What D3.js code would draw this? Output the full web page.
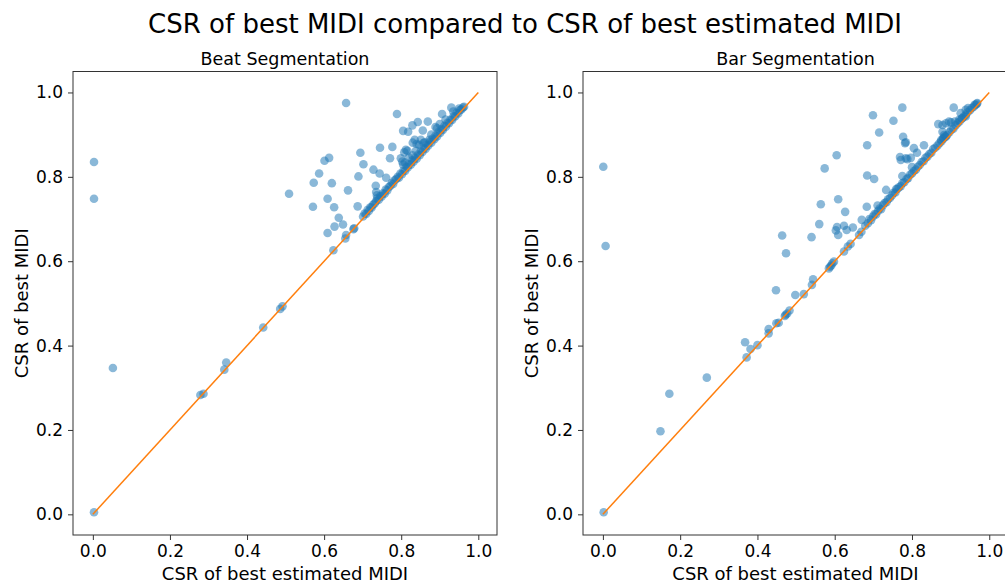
<!DOCTYPE html>
<html><head><meta charset="utf-8">
<script src="https://cdn.jsdelivr.net/npm/d3@7"></script>
<style>
body{margin:0;background:#fff;}
svg text{font-family:"DejaVu Sans",sans-serif;fill:#000;}
</style></head>
<body><svg id="chart" width="1005" height="585"></svg>
<script>
const figTitle = "CSR of best MIDI compared to CSR of best estimated MIDI";
const panelTitles = ["Beat Segmentation", "Bar Segmentation"];
const xLabel = "CSR of best estimated MIDI";
const yLabel = "CSR of best MIDI";
const tickValues = [0.0, 0.2, 0.4, 0.6, 0.8, 1.0];
const refLine = [0, 1];

// Beat segmentation: x = CSR of best estimated MIDI, y = CSR of best MIDI
const beatX = [0.003,0.003,0.003,0.052,0.279,0.287,0.341,0.346,0.442,0.486,0.492,0.509,0.571,0.573,0.587,0.601,0.613,0.609,0.620,0.626,0.609,0.627,0.638,0.649,0.624,0.655,0.657,0.662,0.657,0.678,0.676,0.687,0.689,0.694,0.702,0.728,0.734,0.735,0.737,0.744,0.745,0.761,0.771,0.777,0.789,0.799,0.803,0.810,0.805,0.818,0.808,0.812,0.816,0.829,0.843,0.830,0.835,0.840,0.851,0.858,0.873,0.856,0.869,0.889,0.906,0.930,
0.701,0.705,0.709,0.713,0.716,0.720,0.723,0.727,0.731,0.735,0.738,0.742,0.746,0.749,0.753,0.757,0.760,0.764,0.768,0.772,0.776,0.779,0.783,0.787,0.791,0.794,0.798,0.802,0.806,0.810,0.814,0.817,0.821,0.825,0.829,0.832,0.836,0.840,0.844,0.848,0.851,0.855,0.859,0.863,0.867,0.870,0.874,0.878,0.882,0.886,0.889,0.893,0.897,0.901,0.905,0.908,0.912,0.916,0.920,0.924,0.928,0.932,0.936,0.940,0.944,0.948,0.952,0.956,0.960,0.963,
0.846,0.861,0.878,0.893,0.915,0.935,0.900,0.950,0.820,0.829,0.838,0.805];
const beatY = [0.005,0.835,0.748,0.347,0.283,0.286,0.343,0.360,0.443,0.487,0.493,0.760,0.729,0.786,0.808,0.838,0.845,0.748,0.785,0.728,0.667,0.682,0.703,0.687,0.626,0.654,0.662,0.768,0.975,0.678,0.676,0.730,0.801,0.857,0.830,0.817,0.779,0.764,0.756,0.808,0.869,0.798,0.844,0.871,0.949,0.844,0.836,0.834,0.909,0.907,0.858,0.864,0.862,0.922,0.930,0.881,0.888,0.878,0.888,0.880,0.888,0.910,0.931,0.918,0.949,0.964,
0.706,0.713,0.712,0.722,0.719,0.728,0.727,0.734,0.737,0.742,0.749,0.746,0.755,0.753,0.761,0.760,0.770,0.768,0.776,0.779,0.786,0.783,0.792,0.795,0.800,0.798,0.808,0.806,0.815,0.814,0.824,0.822,0.830,0.829,0.839,0.836,0.845,0.843,0.853,0.851,0.861,0.859,0.868,0.866,0.876,0.874,0.883,0.881,0.891,0.889,0.898,0.896,0.906,0.904,0.913,0.911,0.921,0.919,0.928,0.927,0.936,0.935,0.944,0.943,0.952,0.950,0.958,0.960,0.964,0.966,
0.876,0.882,0.900,0.915,0.936,0.955,0.925,0.962,0.846,0.851,0.862,0.829];

// Bar segmentation
const barX = [0.002,0.001,0.007,0.149,0.172,0.269,0.368,0.372,0.382,0.400,0.429,0.429,0.449,0.455,0.471,0.473,0.477,0.483,0.448,0.464,0.474,0.498,0.520,0.541,0.544,0.540,0.560,0.564,0.574,0.585,0.588,0.591,0.594,0.598,0.603,0.606,0.609,0.605,0.609,0.624,0.624,0.627,0.631,0.634,0.641,0.647,0.663,0.669,0.670,0.683,0.684,0.684,0.699,0.702,0.711,0.715,0.733,0.752,0.759,0.769,0.771,0.784,0.788,0.797,0.775,0.775,0.777,0.782,0.784,0.800,0.805,0.813,0.831,0.908,
0.868,0.879,0.888,0.896,0.901,0.911,0.922,0.930,0.939,0.879,0.883,0.888,0.876,0.881,0.926,0.939,0.945,0.962,0.969,
0.679,0.686,0.690,0.694,0.699,0.703,0.707,0.712,0.716,0.720,0.725,0.729,0.734,0.738,0.743,0.748,0.752,0.757,0.762,0.766,0.771,0.775,0.780,0.786,0.790,0.795,0.800,0.805,0.810,0.815,0.820,0.825,0.830,0.835,0.840,0.845,0.850,0.855,0.860,0.866,0.871,0.876,0.881,0.886,0.891,0.897,0.902,0.907,0.913,0.918,0.923,0.929,0.934,0.939,0.944,0.950,0.955,0.960,0.965,0.968];
const barY = [0.005,0.824,0.636,0.197,0.286,0.324,0.408,0.372,0.392,0.401,0.439,0.429,0.453,0.454,0.470,0.473,0.476,0.483,0.531,0.661,0.619,0.520,0.522,0.544,0.557,0.657,0.688,0.735,0.820,0.583,0.587,0.590,0.595,0.599,0.673,0.681,0.662,0.851,0.747,0.623,0.684,0.717,0.674,0.635,0.641,0.680,0.662,0.670,0.698,0.729,0.803,0.875,0.946,0.795,0.732,0.905,0.769,0.933,0.771,0.847,0.840,0.844,0.842,0.845,0.964,0.802,0.895,0.880,0.882,0.823,0.868,0.857,0.875,0.964,
0.925,0.923,0.927,0.931,0.929,0.931,0.935,0.939,0.943,0.907,0.899,0.895,0.888,0.892,0.951,0.959,0.963,0.971,0.975,
0.684,0.690,0.700,0.697,0.706,0.712,0.711,0.719,0.725,0.723,0.733,0.738,0.740,0.747,0.750,0.756,0.762,0.763,0.771,0.775,0.778,0.785,0.787,0.795,0.797,0.805,0.808,0.814,0.817,0.824,0.828,0.835,0.837,0.845,0.848,0.854,0.857,0.866,0.869,0.874,0.880,0.884,0.890,0.896,0.899,0.906,0.912,0.914,0.922,0.927,0.931,0.938,0.943,0.947,0.953,0.958,0.963,0.966,0.971,0.973];

const svg = d3.select("#chart");

svg.append("text").attr("x", 525).attr("y", 33).attr("text-anchor", "middle")
  .style("font-size", "26px").text(figTitle);

const panels = [
  {title: panelTitles[0], xs: beatX, ys: beatY, left: 73, right: 497},
  {title: panelTitles[1], xs: barX, ys: barY, left: 583, right: 1008}
];
const axTop = 71.5, axBottom = 535;

panels.forEach(p => {
  const x = d3.scaleLinear().domain([-0.0515, 1.0485]).range([p.left, p.right]);
  const y = d3.scaleLinear().domain([-0.049, 1.0497]).range([axBottom, axTop]);
  const g = svg.append("g");

  g.append("g").selectAll("circle").data(p.xs.map((v, i) => [v, p.ys[i]])).join("circle")
    .attr("cx", d => x(d[0])).attr("cy", d => y(d[1])).attr("r", 4.3)
    .attr("fill", "#1f77b4").attr("fill-opacity", 0.52);

  g.append("line").attr("x1", x(refLine[0])).attr("y1", y(refLine[0]))
    .attr("x2", x(refLine[1])).attr("y2", y(refLine[1]))
    .attr("stroke", "#ff7f0e").attr("stroke-width", 1.5);

  const xa = g.append("g").attr("transform", `translate(0,${axBottom})`)
    .call(d3.axisBottom(x).tickValues(tickValues).tickFormat(d3.format(".1f")).tickSize(5).tickPadding(4));
  const ya = g.append("g").attr("transform", `translate(${p.left},0)`)
    .call(d3.axisLeft(y).tickValues(tickValues).tickFormat(d3.format(".1f")).tickSize(5).tickPadding(5));
  [xa, ya].forEach(a => {
    a.select(".domain").remove();
    a.selectAll("line").attr("stroke", "#333");
    a.selectAll("text").style("font-size", "17px").attr("font-family", "DejaVu Sans");
  });
  xa.selectAll("text").attr("dy", "0.78em");

  g.append("rect").attr("x", p.left).attr("y", axTop).attr("width", p.right - p.left).attr("height", axBottom - axTop)
    .attr("fill", "none").attr("stroke", "#333").attr("stroke-width", 1);

  g.append("text").attr("x", (p.left + p.right) / 2).attr("y", 65).attr("text-anchor", "middle")
    .style("font-size", "17.5px").text(p.title);
  g.append("text").attr("x", (p.left + p.right) / 2).attr("y", 580).attr("text-anchor", "middle")
    .style("font-size", "18px").text(xLabel);
  g.append("text").attr("transform", `translate(${p.left - 45},${(axTop + axBottom) / 2}) rotate(-90)`)
    .attr("text-anchor", "middle").style("font-size", "18px").text(yLabel);
});
</script></body></html>
